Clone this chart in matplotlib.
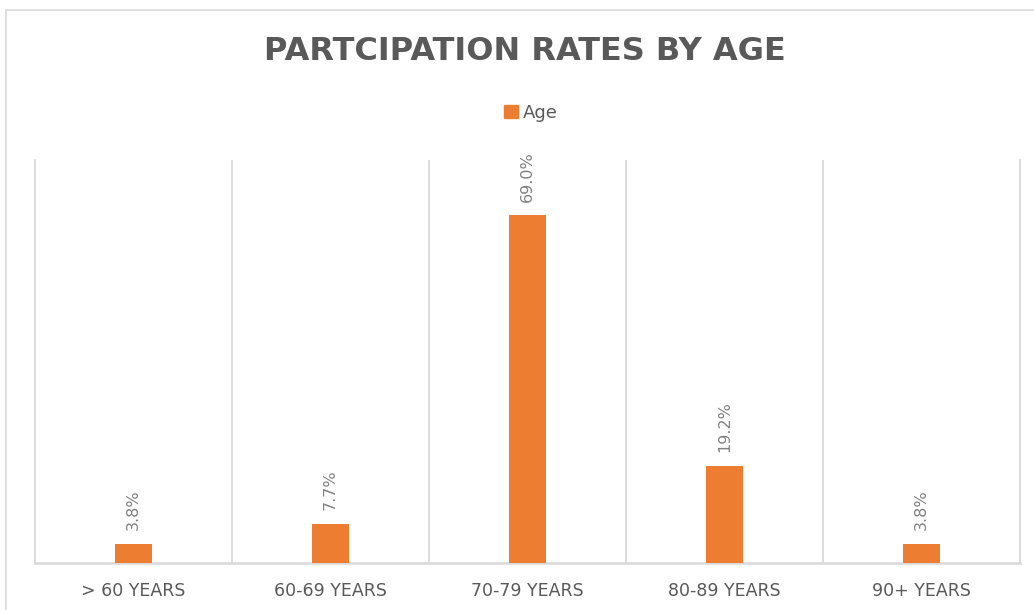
#!/usr/bin/env python3
"""Participation rates by age, single-series column chart."""
import matplotlib
matplotlib.use("Agg")
import matplotlib.pyplot as plt
from matplotlib.patches import Rectangle

categories = ["> 60 YEARS", "60-69 YEARS", "70-79 YEARS", "80-89 YEARS", "90+ YEARS"]
rates = [3.8, 7.7, 69.0, 19.2, 3.8]
series_name = "Age"
title = "PARTCIPATION RATES BY AGE"

ORANGE = "#ED7D31"
GRID = "#D9D9D9"
TXT = "#595959"
LBL = "#808080"

W, H = 1034, 610
fig = plt.figure(figsize=(W / 100, H / 100), dpi=100)
ax = fig.add_axes([35 / W, 1 - 563 / H, (1020 - 35) / W, (563 - 160) / H])

x = list(range(len(categories)))
ax.bar(x, rates, width=0.183, color=ORANGE, zorder=3)
for xi, v in zip(x, rates):
    ax.annotate(f"{v:.1f}%", (xi, v), xytext=(0, 10), textcoords="offset points",
                rotation=90, ha="center", va="bottom", fontsize=11.5, color=LBL)

ax.set_xlim(-0.5, len(categories) - 0.5)
ax.set_ylim(0, 80)
for b in range(1, len(categories)):
    ax.axvline(b - 0.5, color=GRID, lw=1.3, zorder=1)
for s in ["top"]:
    ax.spines[s].set_visible(False)
for s in ["left", "right", "bottom"]:
    ax.spines[s].set_color(GRID)
    ax.spines[s].set_linewidth(1.3)
ax.spines["bottom"].set_linewidth(1.8)
ax.set_yticks([])
ax.set_xticks(x)
ax.set_xticklabels(categories, fontsize=12.5, color=TXT)
ax.tick_params(axis="x", length=0, pad=14)

fig.text(525 / W, 1 - 52 / H, title, ha="center", va="center",
         fontsize=23, fontweight="bold", color=TXT)

h = Rectangle((0, 0), 1, 1, color=ORANGE)
fig.legend([h], [series_name], loc="center", bbox_to_anchor=(531 / W, 1 - 113 / H),
           frameon=False, fontsize=13, handlelength=0.75, handleheight=0.75,
           handletextpad=0.3, labelcolor=TXT)

fig.patches.append(Rectangle((6 / W, -0.1), 2, 1.1 - 10 / H, fill=False,
                             edgecolor=GRID, lw=1.2, transform=fig.transFigure))

fig.savefig("out.png", dpi=100)
